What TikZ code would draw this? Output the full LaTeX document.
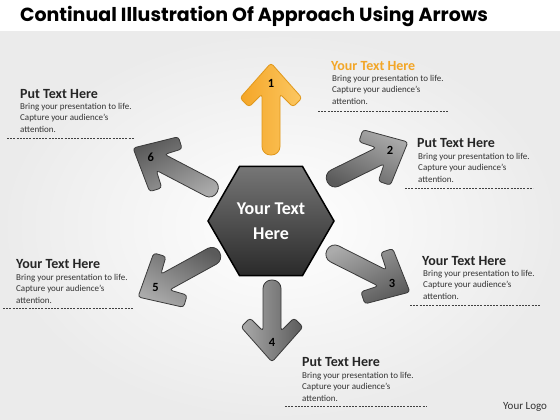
\documentclass[tikz,border=0pt]{standalone}
\usepackage{fontspec}
\setmainfont{Carlito}
\newfontfamily\titlefont{Poppins}
\usetikzlibrary{shapes.geometric}
\definecolor{bgray}{HTML}{EBEBEB}
\definecolor{orA}{HTML}{FCC863}
\definecolor{orB}{HTML}{F4A526}
\definecolor{orEdge}{HTML}{E0981C}
\definecolor{headOr}{HTML}{F2A628}
\definecolor{txt}{HTML}{333333}
\definecolor{arrLight}{HTML}{ABABAB}
\definecolor{arrDark}{HTML}{5A5A5A}
\definecolor{arrEdge}{HTML}{3A3A3A}
\definecolor{hexA}{HTML}{767676}
\definecolor{hexB}{HTML}{2A2A2A}
\newcommand\myarrow[7]{%
  \begin{scope}[shift={(#2,#3)}, rotate=#4]
    \path[#6, shading angle={0-(#4)}] (0,0) [rounded corners=3pt] -- (-35,31) -- (-44,22) -- (-31,9)
      [rounded corners=8.5pt] -- (-#5,9) -- (-#5,-9)
      [rounded corners=3pt] -- (-31,-9) -- (-44,-22) -- (-35,-31) -- cycle;
    \node[numlbl] (#1) at (-20,0) {#7};
  \end{scope}}
\begin{document}
\begin{tikzpicture}[x=1pt,y=-1pt,
  grayarr/.style={draw=arrEdge, line width=0.8pt, top color=arrLight, bottom color=arrDark},
  orarr/.style={draw=orEdge, line width=0.8pt, top color=orA, bottom color=orB},
  numlbl/.style={inner sep=0, font=\bfseries\fontsize{12.5}{13}\selectfont, text=black},
  head/.style={anchor=west, inner sep=0, font=\bfseries\fontsize{14}{16}\selectfont, text=black!85},
  body/.style={anchor=north west, inner sep=0, align=left, font=\fontsize{9}{11.5}\selectfont, text=txt},
  dashl/.style={line width=0.9pt, dash pattern=on 2pt off 1.2pt, draw=black!75}]
\useasboundingbox (0,0) rectangle (560,420);
\fill[white] (0,0) rectangle (560,420);
\shade[inner color=white, outer color=bgray] (0,32) rectangle (560,420);
\node[inner sep=0, font=\titlefont\bfseries\fontsize{19}{21}\selectfont] (title) at (254,17) {Continual Illustration Of Approach Using Arrows};

% arrows
\myarrow{n1}{271}{63}{90}{92}{orarr}{1}
\myarrow{n2}{408}{142}{26.3}{90}{grayarr}{2}
\myarrow{n3}{410}{292}{-26.8}{93}{grayarr}{3}
\myarrow{n4}{272}{362}{-90}{82}{grayarr}{4}
\myarrow{n5}{138}{297}{208.8}{93}{grayarr}{5}
\myarrow{n6}{133}{148}{152.4}{95}{grayarr}{6}

% hub
\node[regular polygon, regular polygon sides=6, minimum size=126pt, inner sep=0,
  draw=black, line width=1.5pt, top color=hexA, bottom color=hexB, text=white,
  font=\bfseries\fontsize{18}{25}\selectfont, align=center] (hub) at (271,221) {Your Text\\Here};

% text blocks
\node[head, text=headOr] (h1) at (331,66) {Your Text Here};
\node[body] (b1) at (332,75) {Bring your presentation to life.\\Capture your audience’s\\attention.};
\draw[dashl] (318,111) -- (448,111);

\node[head] (h2) at (417,143) {Put Text Here};
\node[body] (b2) at (418,153) {Bring your presentation to life.\\Capture your audience’s\\attention.};
\draw[dashl] (405,188) -- (533,188);

\node[head] (h3) at (422,261) {Your Text Here};
\node[body] (b3) at (423,270) {Bring your presentation to life.\\Capture your audience’s\\attention.};
\draw[dashl] (410,305) -- (540,305);

\node[head] (h4) at (302,362) {Put Text Here};
\node[body] (b4) at (302,372) {Bring your presentation to life.\\Capture your audience’s\\attention.};
\draw[dashl] (285,406) -- (427,406);

\node[head] (h5) at (16,264) {Your Text Here};
\node[body] (b5) at (16,274) {Bring your presentation to life.\\Capture your audience’s\\attention.};
\draw[dashl] (3,308) -- (133,308);

\node[head] (h6) at (20,94) {Put Text Here};
\node[body] (b6) at (20,103) {Bring your presentation to life.\\Capture your audience’s\\attention.};
\draw[dashl] (7,138) -- (134,138);

\node[anchor=west, inner sep=0, font=\fontsize{11}{12}\selectfont, text=black!80] (logo) at (503,407) {Your Logo};
\end{tikzpicture}
\end{document}
